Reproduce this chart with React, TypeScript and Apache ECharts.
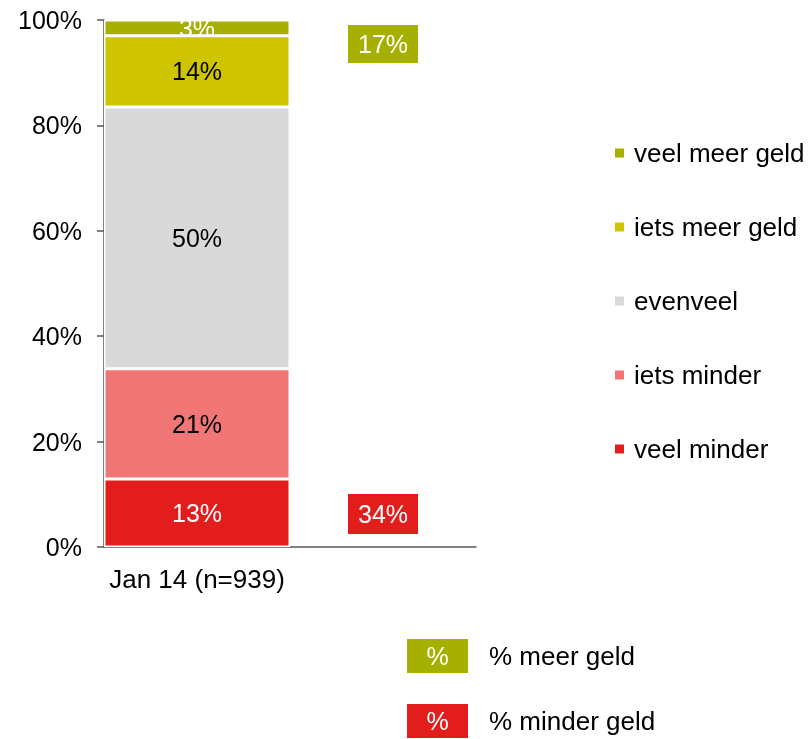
import React, { useEffect, useRef } from "react";
import * as echarts from "echarts";

const categories = ["Jan 14 (n=939)", ""];
const seriesNames = ["veel minder", "iets minder", "evenveel", "iets meer geld", "veel meer geld"];
const seriesValues = [12.9, 20.9, 49.7, 13.5, 3.0];
const seriesColors = ["#e31c1c", "#f17777", "#d9d9d9", "#cfc400", "#a6b000"];
const labelColors = ["#ffffff", "#000000", "#000000", "#000000", "#ffffff"];
const yTicks = [0, 20, 40, 60, 80, 100];
const meerGeld = Math.round(seriesValues[3] + seriesValues[4]);
const minderGeld = Math.round(seriesValues[0] + seriesValues[1]);
const summaryNames = ["% meer geld", "% minder geld"];

const FONT = "'Liberation Sans', Arial, sans-serif";

export default function App() {
  const ref = useRef<HTMLDivElement>(null);
  useEffect(() => {
    if (!ref.current) return;
    const chart = echarts.init(ref.current, null, { renderer: "svg" });
    const series = seriesNames.map((name, i) => ({
      name,
      type: "bar",
      stack: "total",
      barWidth: "100%",
      data: [seriesValues[i], null],
      itemStyle: { color: seriesColors[i], borderColor: "#ffffff", borderWidth: 1.5 },
      label: {
        show: true,
        position: "inside",
        color: labelColors[i],
        fontSize: 25,
        fontFamily: FONT,
        formatter: (p: any) => Math.round(p.value) + "%",
      },
    }));
    const summaryBox = (y: number, h: number, color: string, text: string) => ({
      type: "group",
      children: [
        { type: "rect", shape: { x: 348, y, width: 70, height: h }, style: { fill: color } },
        {
          type: "text",
          x: 383,
          y: y + h / 2,
          style: { text, fill: "#ffffff", fontSize: 25, fontFamily: FONT, align: "center", verticalAlign: "middle" },
        },
      ],
    });
    const keyBox = (y: number, color: string, label: string) => ({
      type: "group",
      children: [
        { type: "rect", shape: { x: 407, y, width: 61, height: 34 }, style: { fill: color } },
        {
          type: "text",
          x: 437.5,
          y: y + 17,
          style: { text: "%", fill: "#ffffff", fontSize: 25, fontFamily: FONT, align: "center", verticalAlign: "middle" },
        },
        {
          type: "text",
          x: 489,
          y: y + 17,
          style: { text: label, fill: "#000000", fontSize: 26, fontFamily: FONT, align: "left", verticalAlign: "middle" },
        },
      ],
    });
    chart.setOption({
      animation: false,
      grid: { left: 104, right: 335, top: 20, bottom: 192, containLabel: false },
      legend: {
        orient: "vertical",
        left: 608,
        top: 135,
        icon: "rect",
        itemWidth: 11,
        itemHeight: 11,
        itemGap: 48,
        data: [...seriesNames].reverse(),
        textStyle: { fontSize: 26, lineHeight: 26, color: "#000000", fontFamily: FONT, padding: [0, 0, 0, 4] },
        selectedMode: false,
      },
      xAxis: {
        type: "category",
        data: categories,
        axisLine: { lineStyle: { color: "#595959", width: 1.5 } },
        axisTick: { show: false },
        axisLabel: { fontSize: 26, color: "#000000", fontFamily: FONT, margin: 19 },
      },
      yAxis: {
        type: "value",
        min: yTicks[0],
        max: yTicks[yTicks.length - 1],
        interval: 20,
        axisLine: { show: true, lineStyle: { color: "#595959", width: 1.5 } },
        axisTick: { show: true, length: 7, lineStyle: { color: "#595959", width: 1.5 } },
        splitLine: { show: false },
        axisLabel: { fontSize: 25, color: "#000000", fontFamily: FONT, margin: 22, formatter: "{value}%" },
      },
      series,
      graphic: [
        summaryBox(25, 38, seriesColors[4], meerGeld + "%"),
        summaryBox(494, 40, seriesColors[0], minderGeld + "%"),
        keyBox(639, seriesColors[4], summaryNames[0]),
        keyBox(704, seriesColors[0], summaryNames[1]),
      ],
    });
    return () => chart.dispose();
  }, []);
  return <div ref={ref} style={{ position: "fixed", left: 0, top: 0, width: 811, height: 739 }} />;
}
